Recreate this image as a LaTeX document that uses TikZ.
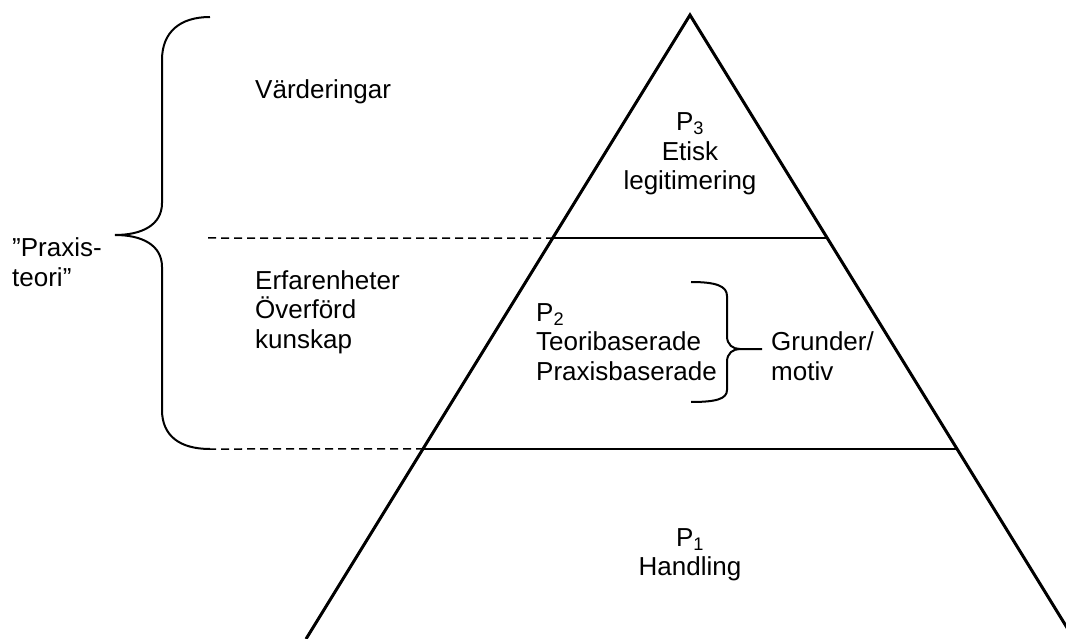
\documentclass[tikz,border=0pt]{standalone}
\usepackage{fontspec}
\setmainfont{Liberation Sans}
\usetikzlibrary{calc}
\begin{document}
\begin{tikzpicture}[x=1pt,y=-1pt,
  tri/.style={line width=3pt, line join=miter},
  level/.style={line width=1.5pt},
  dashlevel/.style={line width=1.5pt, dash pattern=on 8pt off 5pt},
  brace/.style={line width=2pt},
  txt/.style={inner sep=0pt, font=\fontsize{26}{29.5}\selectfont, align=left, anchor=west},
  ctxt/.style={inner sep=0pt, font=\fontsize{26}{29.5}\selectfont, align=center}]
\useasboundingbox (0,0) rectangle (1066,639);
\clip (0,0) rectangle (1066,639);
% triangle
\coordinate (apex) at (690,15);
\coordinate (bl) at (306,639);
\coordinate (br) at (1074,639);
\draw[tri] (bl) -- (apex) -- (br);
% level lines
\coordinate (uL) at ($(apex)!0.3574!(bl)$);
\coordinate (uR) at ($(apex)!0.3574!(br)$);
\coordinate (lL) at ($(apex)!0.6955!(bl)$);
\coordinate (lR) at ($(apex)!0.6955!(br)$);
\coordinate (uS) at (208,238);
\coordinate (lS) at (208,449);
\draw[dashlevel] (uS) -- (uL);
\draw[level] (uL) -- (uR);
\draw[dashlevel] (lS) -- (lL);
\draw[level] (lL) -- (lR);
% big brace
\coordinate (bbTop) at (210,17);
\coordinate (bbTip) at (115,235);
\coordinate (bbBot) at (210,449);
\draw[brace] (bbTop) .. controls (180,17) and (162,32) .. (162,60)
  -- (162,203) .. controls (162,225) and (142,235) .. (bbTip)
  .. controls (142,235) and (162,245) .. (162,267)
  -- (162,410) .. controls (162,436) and (180,449) .. (bbBot);
% small brace
\coordinate (sbTop) at (691,282);
\coordinate (sbTip) at (762,349);
\coordinate (sbBot) at (691,402);
\draw[brace] (sbTop) .. controls (716,282) and (727,286) .. (727,296)
  -- (727,336) .. controls (727,345) and (733,349) .. (740,349) -- (sbTip)
  (740,349) .. controls (733,349) and (727,353) .. (727,362)
  -- (727,390) .. controls (727,399) and (716,402) .. (sbBot);
% texts
\node[txt] (vard) at (255,92) {Värderingar};
\node[ctxt] (p3) at (690,154) {P\textsubscript{3}\\Etisk\\legitimering};
\node[txt] (praxis) at (12,262) {”Praxis-\\teori”};
\node[txt] (erf) at (255,312) {Erfarenheter\\Överförd\\kunskap};
\node[txt] (p2) at (536,342) {P\textsubscript{2}\\Teoribaserade\\Praxisbaserade};
\node[txt] (grund) at (771,356) {Grunder/\\motiv};
\node[ctxt] (p1) at (690,555) {P\textsubscript{1}\\Handling};
\end{tikzpicture}
\end{document}
